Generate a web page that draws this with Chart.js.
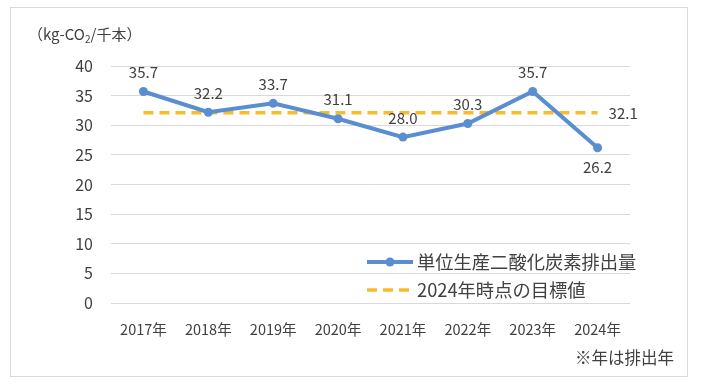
<!DOCTYPE html>
<html>
<head>
<meta charset="utf-8">
<script src="https://cdn.jsdelivr.net/npm/chart.js@4.4.1/dist/chart.umd.min.js"></script>
<style>
  html, body { margin: 0; padding: 0; background: #fff; }
  #wrap { width: 704px; height: 391px; }
</style>
</head>
<body>
<div id="wrap"><canvas id="myChart" width="704" height="391"></canvas></div>
<script>
const years = ['2017年', '2018年', '2019年', '2020年', '2021年', '2022年', '2023年', '2024年'];
const emissions = [35.7, 32.2, 33.7, 31.1, 28.0, 30.3, 35.7, 26.2];
const target = [32.1, 32.1, 32.1, 32.1, 32.1, 32.1, 32.1, 32.1];
const seriesNames = ['単位生産二酸化炭素排出量', '2024年時点の目標値'];
const yTicks = [0, 5, 10, 15, 20, 25, 30, 35, 40];

const FONT = '"Noto Sans CJK JP", "Noto Sans", sans-serif';
const TEXT = '#404040';
const BLUE = '#5B8ED0';
const GOLD = '#F7BB2E';

// frame, unit label, value labels, legend and footnote
const extras = {
    id: 'extras',
    beforeDraw(chart) {
        const c = chart.ctx;
        c.save();
        c.fillStyle = '#fff';
        c.fillRect(0, 0, chart.width, chart.height);
        c.strokeStyle = '#D9D9D9';
        c.lineWidth = 1;
        c.strokeRect(10.5, 7.5, 677, 369);
        c.restore();
    },
    afterDatasetsDraw(chart) {
        const c = chart.ctx;
        c.save();
        c.fillStyle = TEXT;
        c.textBaseline = 'middle';

        // unit label
        c.font = '15px ' + FONT;
        c.textAlign = 'left';
        let x = 28;
        c.fillText('（kg-CO', x, 34);
        x += c.measureText('（kg-CO').width;
        c.font = '10px ' + FONT;
        c.fillText('2', x, 39);
        x += c.measureText('2').width;
        c.font = '15px ' + FONT;
        c.fillText('/千本）', x, 34);

        // value labels
        c.font = '15px ' + FONT;
        c.textAlign = 'center';
        const meta = chart.getDatasetMeta(0);
        meta.data.forEach(function (pt, i) {
            const below = i === emissions.length - 1;
            c.fillText(emissions[i].toFixed(1), pt.x, pt.y + (below ? 20 : -19));
        });
        const meta2 = chart.getDatasetMeta(1);
        const last = meta2.data[meta2.data.length - 1];
        c.textAlign = 'left';
        c.fillText(target[target.length - 1].toFixed(1), last.x + 11, last.y);

        // legend
        c.lineWidth = 4;
        c.strokeStyle = BLUE;
        c.beginPath(); c.moveTo(367, 262); c.lineTo(413, 262); c.stroke();
        c.fillStyle = BLUE;
        c.beginPath(); c.arc(390, 262, 4.5, 0, Math.PI * 2); c.fill();
        c.strokeStyle = GOLD;
        c.lineWidth = 3.5;
        c.setLineDash([10, 6]);
        c.beginPath(); c.moveTo(367, 290); c.lineTo(413, 290); c.stroke();
        c.setLineDash([]);
        c.fillStyle = TEXT;
        c.font = '18.3px ' + FONT;
        c.fillText(seriesNames[0], 417, 262);
        c.fillText(seriesNames[1], 417, 290);

        // footnote
        c.font = '16.5px ' + FONT;
        c.textAlign = 'right';
        c.fillText('※年は排出年', 674, 358);
        c.restore();
    }
};

new Chart(document.getElementById('myChart'), {
    type: 'line',
    data: {
        labels: years,
        datasets: [
            {
                label: seriesNames[0],
                data: emissions,
                borderColor: BLUE,
                backgroundColor: BLUE,
                borderWidth: 4,
                pointRadius: 4.5,
                pointBorderWidth: 0,
                tension: 0
            },
            {
                label: seriesNames[1],
                data: target,
                borderColor: GOLD,
                borderWidth: 3.5,
                borderDash: [10, 6],
                pointRadius: 0,
                tension: 0
            }
        ]
    },
    options: {
        responsive: false,
        animation: false,
        layout: { padding: { left: 0, top: 66, right: 74, bottom: 0 } },
        plugins: {
            legend: { display: false },
            tooltip: { enabled: false }
        },
        scales: {
            x: {
                offset: true,
                grid: { display: false, drawTicks: false },
                border: { display: false },
                ticks: { color: TEXT, font: { family: FONT, size: 14.5 }, padding: 18, maxRotation: 0 },
                afterFit(scale) { scale.height = 88; }
            },
            y: {
                min: 0,
                max: 40,
                grid: { color: '#D9D9D9', lineWidth: 1, drawTicks: false },
                border: { display: false },
                afterBuildTicks(scale) { scale.ticks = yTicks.map(v => ({ value: v })); },
                ticks: { color: TEXT, font: { family: FONT, size: 16 }, padding: 18 },
                afterFit(scale) { scale.width = 111; }
            }
        }
    },
    plugins: [extras]
});
</script>
</body>
</html>
